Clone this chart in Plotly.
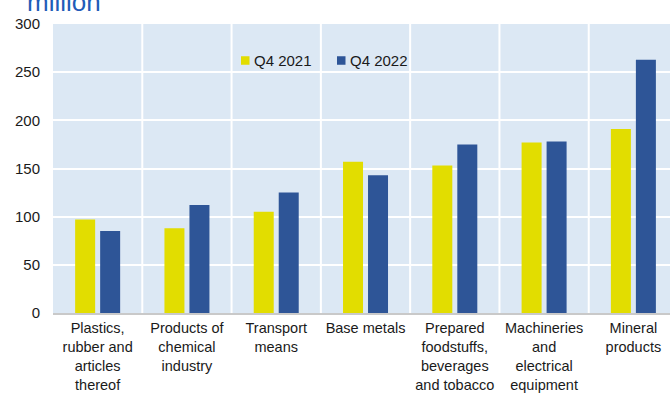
import plotly.graph_objects as go

categories = [
    "Plastics,<br>rubber and<br>articles<br>thereof",
    "Products of<br>chemical<br>industry",
    "Transport<br>means",
    "Base metals",
    "Prepared<br>foodstuffs,<br>beverages<br>and tobacco",
    "Machineries<br>and<br>electrical<br>equipment",
    "Mineral<br>products",
]
q4_2021 = [97, 88, 105, 157, 153, 177, 191]
q4_2022 = [85, 112, 125, 143, 175, 178, 263]
series_names = ["Q4 2021", "Q4 2022"]
y_ticks = [0, 50, 100, 150, 200, 250, 300]

YELLOW = "#e2dd00"
BLUE = "#2e5597"
BG = "#dce8f4"
FONT = "Liberation Sans, Arial, sans-serif"
colors = [YELLOW, BLUE]

W, H = 670, 394
ML, MR, MT, MB = 53, 0, 24, 81
PW, PH = W - ML - MR, H - MT - MB

fig = go.Figure()
for name, vals, col in zip(series_names, [q4_2021, q4_2022], colors):
    fig.add_trace(go.Bar(x=categories, y=vals, name=name,
                         marker=dict(color=col, line=dict(width=0))))

shapes = []
for i in range(len(categories) - 1):
    shapes.append(dict(type="line", xref="x", yref="paper", x0=i + 0.5, x1=i + 0.5,
                       y0=0, y1=1, line=dict(color="white", width=2), layer="below"))

# legend drawn inside the plot (squares + labels)
annotations = []
leg_x0_px, leg_y_px, leg_step_px, sq = 241, 60.5, 96, 8.5
for k, (name, col) in enumerate(zip(series_names, colors)):
    x0 = leg_x0_px + k * leg_step_px
    shapes.append(dict(type="rect", xref="paper", yref="paper",
                       x0=(x0 - ML) / PW, x1=(x0 + sq - ML) / PW,
                       y0=(MT + PH - (leg_y_px + sq / 2)) / PH,
                       y1=(MT + PH - (leg_y_px - sq / 2)) / PH,
                       fillcolor=col, line=dict(width=0)))
    annotations.append(dict(text=name, xref="paper", yref="paper",
                            x=(x0 + sq + 2.5 - ML) / PW,
                            y=(MT + PH - leg_y_px) / PH,
                            xanchor="left", yanchor="middle", showarrow=False,
                            font=dict(size=15, color="#1a1a1a", family=FONT)))

annotations.append(dict(text="million", xref="paper", yref="paper", x=-0.045, y=1.075,
                        xanchor="left", yanchor="middle", showarrow=False,
                        font=dict(size=26, color="#1f5cb8", family=FONT)))

fig.update_layout(
    width=W, height=H,
    margin=dict(l=ML, r=MR, t=MT, b=MB, pad=0, autoexpand=False),
    paper_bgcolor="white",
    plot_bgcolor=BG,
    barmode="group",
    bargap=0.44,
    bargroupgap=0.2,
    font=dict(family=FONT, size=15, color="#1a1a1a"),
    showlegend=False,
    shapes=shapes,
    annotations=annotations,
)
fig.update_xaxes(
    range=[-0.5, len(categories) - 0.59], automargin=False,
    showgrid=False, showline=True, linecolor="#c9c9c9", linewidth=2,
    ticks="", ticklabelstandoff=1, tickfont=dict(size=14.5, color="#1a1a1a"), fixedrange=True,
)
fig.update_yaxes(
    range=[0, 300], tickvals=y_ticks, showgrid=True, gridcolor="white", gridwidth=2,
    automargin=False, zeroline=False, showline=False, ticks="", ticklabelstandoff=12,
    tickfont=dict(size=15, color="#1a1a1a"),
)

fig.write_html("out.html")
